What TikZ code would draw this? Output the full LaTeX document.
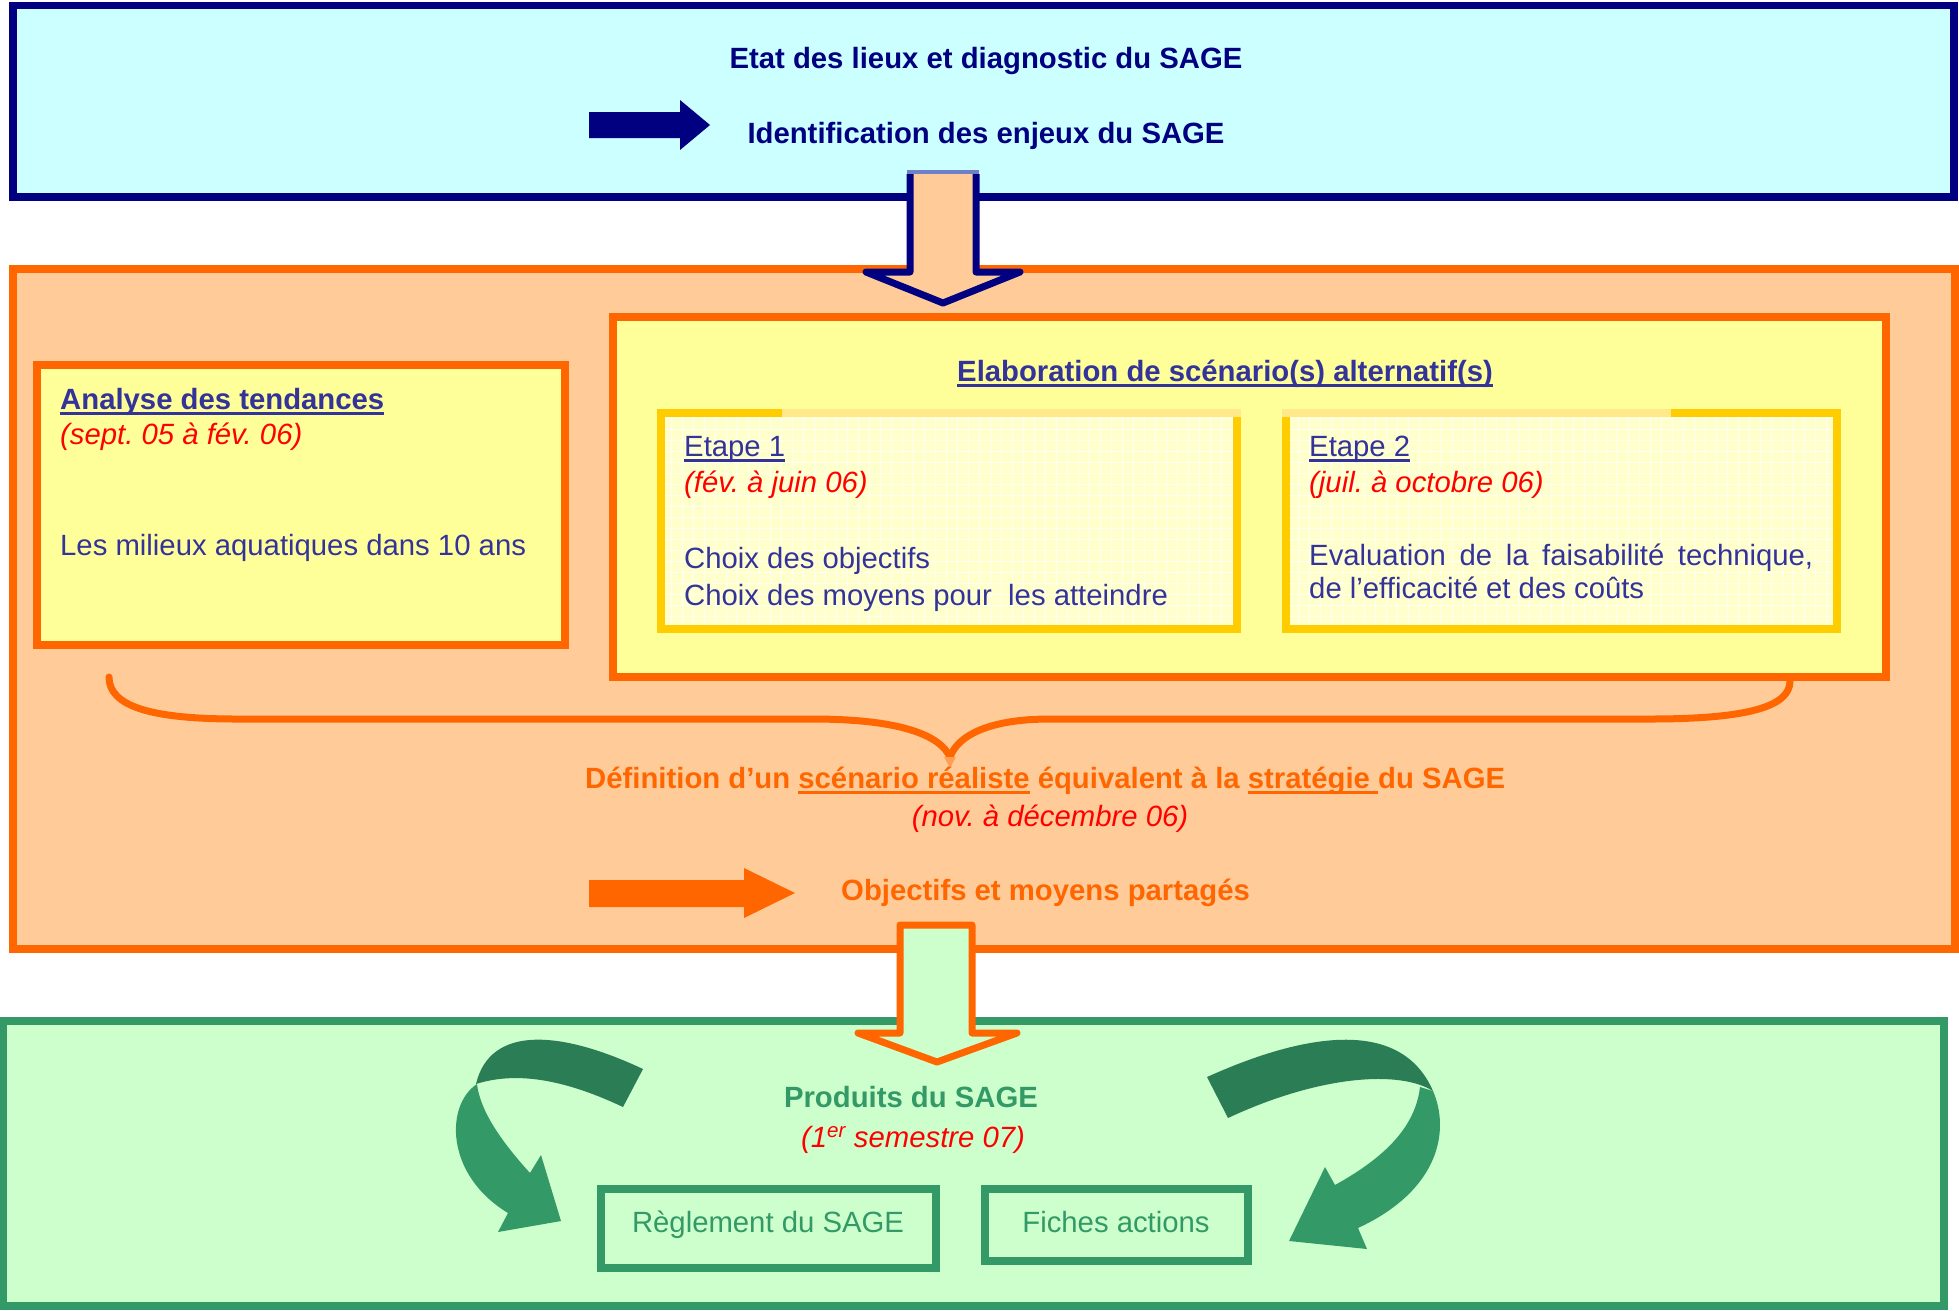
\documentclass[tikz,border=0pt]{standalone}
\usepackage{fontspec}
\setmainfont{Liberation Sans}
\frenchspacing
\definecolor{navyc}{HTML}{000080}
\definecolor{cyanc}{HTML}{CCFFFF}
\definecolor{orc}{HTML}{FF6600}
\definecolor{peach}{HTML}{FFCC99}
\definecolor{yel}{HTML}{FFFF99}
\definecolor{goldc}{HTML}{FFCC00}
\definecolor{goldlight}{HTML}{FFE98A}
\definecolor{etfill}{HTML}{FFFFCC}
\definecolor{slate}{HTML}{333399}
\definecolor{redc}{HTML}{FF0000}
\definecolor{grc}{HTML}{339966}
\definecolor{dkgr}{HTML}{2A7D54}
\definecolor{lgreen}{HTML}{CCFFCC}
\definecolor{toppat}{HTML}{7080C8}
\newcommand\myfs{\fontsize{29.3}{34}\selectfont\frenchspacing}
\newcommand\myul[1]{\setbox0\hbox{#1}\rlap{\rule[-5.5pt]{\wd0}{2.8pt}}\copy0\relax}
\tikzset{
  txt/.style={inner sep=0pt, font=\myfs},
  navytxt/.style={txt, text=navyc, font=\myfs\bfseries},
  slatetxt/.style={txt, text=slate},
  slatebold/.style={txt, text=slate, font=\myfs\bfseries},
  datetxt/.style={txt, text=redc, font=\myfs\itshape},
  orangetxt/.style={txt, text=orc, font=\myfs\bfseries},
  greentxt/.style={txt, text=grc},
  greenbold/.style={txt, text=grc, font=\myfs\bfseries},
  bigbox/.style={line width=8},
  blockarrow/.style={line width=7, line join=round},
}
\begin{document}
\begin{tikzpicture}[x=1pt,y=-1pt]
\useasboundingbox (0,0) rectangle (1959,1310);
% main frames
\draw[navyc, line width=7.5, fill=cyanc] (13,5.5) rectangle (1954,197);
\draw[orc, bigbox, fill=peach] (13,269) rectangle (1955,949);
\draw[grc, bigbox, fill=lgreen] (3,1021) rectangle (1944,1306);

% top section
\node[navytxt, anchor=base] (etat) at (986,68) {Etat des lieux et diagnostic du SAGE};
\node[navytxt, anchor=base] (ident) at (986,143) {Identification des enjeux du SAGE};
\fill[navyc] (589,112) -- (680,112) -- (680,100) -- (710,125) -- (680,150) -- (680,138) -- (589,138) -- cycle;

% navy block arrow from top to middle
\draw[navyc, blockarrow, fill=peach] (910,174) -- (910,272) -- (866,272) -- (943,303) -- (1020,272) -- (976,272) -- (976,174);
\draw[toppat, line width=4] (907,172) -- (979,172);

% Analyse box
\draw[orc, bigbox, fill=yel] (37,365) rectangle (565,645);
\node[slatebold, anchor=base west] (analyse) at (60,409) {\myul{Analyse des tendances}};
\node[datetxt, anchor=base west] (analysedate) at (60,444) {(sept. 05 à fév. 06)};
\node[slatetxt, anchor=base west] (milieux) at (60,555) {Les milieux aquatiques dans 10 ans};

% Elaboration box
\draw[orc, bigbox, fill=yel] (613,317) rectangle (1886,677);
\node[slatebold, anchor=base west] (elab) at (957,381) {\myul{Elaboration de scénario(s) alternatif(s)}};

% Etape 1
\fill[etfill] (661,413) rectangle (1237,629);
\draw[white, opacity=0.7, line width=0.8, step=11pt] (665,417) grid (1233,625);
\draw[goldc, line width=8] (661,413) rectangle (1237,629);
\draw[goldlight, line width=8] (782,413) -- (1241,413);
\node[slatetxt, anchor=base west] (et1) at (684,456) {\myul{Etape 1}};
\node[datetxt, anchor=base west] (et1date) at (684,492) {(fév. à juin 06)};
\node[slatetxt, anchor=base west] (et1a) at (684,568) {Choix des objectifs};
\node[slatetxt, anchor=base west] (et1b) at (684,605) {Choix des moyens pour\ \ les atteindre};

% Etape 2
\fill[etfill] (1286,413) rectangle (1837,629);
\draw[white, opacity=0.7, line width=0.8, step=11pt] (1290,417) grid (1833,625);
\draw[goldc, line width=8] (1286,413) rectangle (1837,629);
\draw[goldlight, line width=8] (1282,413) -- (1671,413);
\node[slatetxt, anchor=base west] (et2) at (1309,456) {\myul{Etape 2}};
\node[datetxt, anchor=base west] (et2date) at (1309,492) {(juil. à octobre 06)};
\node[slatetxt, anchor=base west] (et2a) at (1309,565) {\makebox[504pt][s]{Evaluation de la faisabilité technique,}};
\node[slatetxt, anchor=base west] (et2b) at (1309,598) {de l’efficacité et des coûts};

% brace
\draw[orc, line width=7, line cap=round] (109,677) .. controls (109,706) and (150,719) .. (237,719) -- (812,719) .. controls (900,719) and (940,735) .. (950,757);
\draw[orc, line width=7, line cap=round] (1790,681) .. controls (1790,706) and (1750,719) .. (1650,719) -- (1050,719) .. controls (990,719) and (958,735) .. (950,757);
\fill[orc!45!peach] (944,757) -- (956,757) -- (950,768) -- cycle;

\node[orangetxt, anchor=base west] (defin) at (585,788) {Définition d’un \myul{scénario réaliste} équivalent à la \myul{stratégie }du SAGE};
\node[datetxt, anchor=base] (defdate) at (1050,826) {(nov. à décembre 06)};

\fill[orc] (589,880) -- (744,880) -- (744,868) -- (795,893) -- (744,918) -- (744,907) -- (589,907) -- cycle;
\node[orangetxt, anchor=base west] (objectifs) at (841,900) {Objectifs et moyens partagés};

% green-filled block arrow
\draw[orc, blockarrow, fill=lgreen] (900,925) -- (900,1033) -- (858,1033) -- (937,1062) -- (1017,1033) -- (972,1033) -- (972,925) -- cycle;

% bottom section
\node[greenbold, anchor=base] (produits) at (911,1107) {Produits du SAGE};
\node[datetxt, anchor=base] (prodate) at (913,1147) {(1\textsuperscript{er} semestre 07)};

\draw[grc, bigbox] (601,1189) rectangle (936,1268);
\node[greentxt, anchor=base] (reglement) at (768,1232) {Règlement du SAGE};
\draw[grc, bigbox] (985,1189) rectangle (1248,1261);
\node[greentxt, anchor=base] (fiches) at (1116,1232) {Fiches actions};

% left curved arrow
\fill[grc] (477,1084) .. controls (445,1105) and (445,1175) .. (508,1213) -- (498,1232) -- (561,1221) -- (541,1155) -- (530,1173) .. controls (500,1140) and (480,1110) .. (477,1084) -- cycle;
\fill[dkgr] (643,1069) .. controls (560,1030) and (490,1025) .. (476,1084) .. controls (520,1070) and (570,1082) .. (623,1107) -- cycle;

% right curved arrow
\fill[grc] (1420,1087) -- (1433,1091) .. controls (1450,1130) and (1440,1190) .. (1358,1228) -- (1367,1249) -- (1289,1241) -- (1325,1167) -- (1335,1185) .. controls (1380,1160) and (1415,1130) .. (1420,1087) -- cycle;
\fill[dkgr] (1207,1077) .. controls (1300,1035) and (1400,1015) .. (1433,1091) .. controls (1400,1070) and (1320,1075) .. (1228,1118) -- cycle;
\end{tikzpicture}
\end{document}
